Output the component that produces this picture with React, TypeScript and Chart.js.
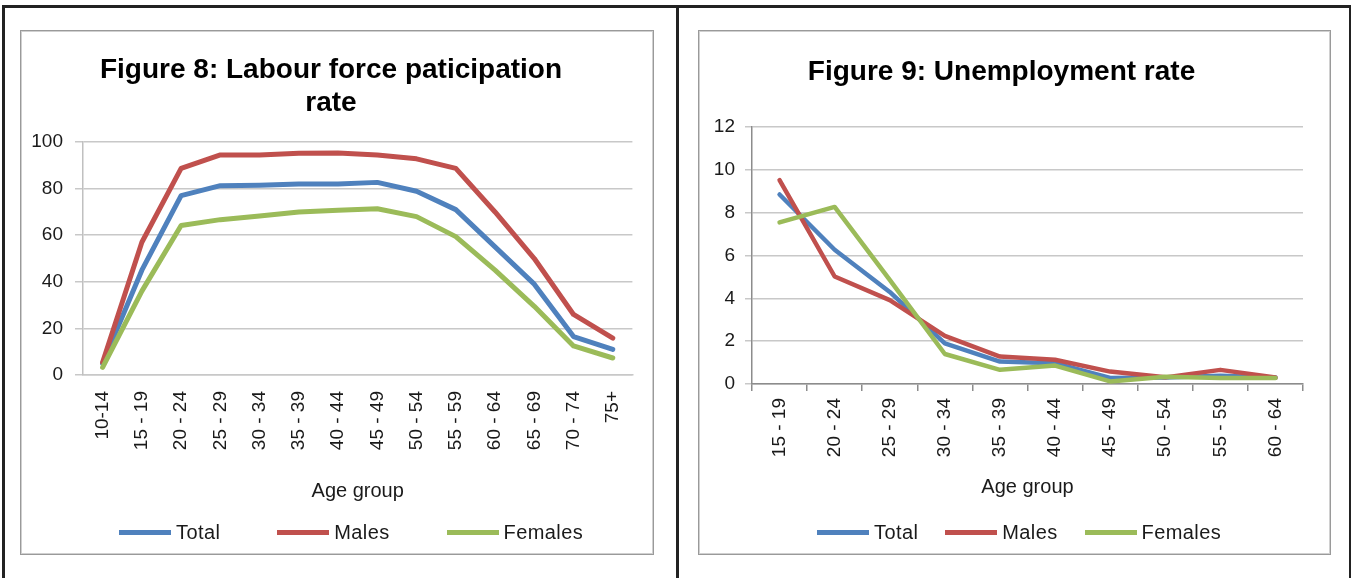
import { useEffect, useRef } from "react"
import { Chart, registerables, type ChartConfiguration } from "chart.js"

Chart.register(...registerables)

const FONT = "'Liberation Sans', Arial, sans-serif"
Chart.defaults.font.family = FONT

const BLUE = "#4F81BD"
const RED = "#C0504D"
const GREEN = "#9BBB59"

// Figure 8: labour force participation rate (%)
const ageGroups8 = [
  "10-14", "15 - 19", "20 - 24", "25 - 29", "30 - 34", "35 - 39", "40 - 44",
  "45 - 49", "50 - 54", "55 - 59", "60 - 64", "65 - 69", "70 - 74", "75+",
]
const total8 = [5, 45, 77, 81.3, 81.5, 82, 82, 82.7, 78.9, 71, 55, 39, 16.5, 11]
const males8 = [5.5, 57, 88.7, 94.5, 94.5, 95.2, 95.3, 94.5, 92.8, 88.7, 70, 50, 26, 15.8]
const females8 = [3.3, 36, 64.2, 66.7, 68.3, 70, 70.7, 71.4, 68, 59.4, 45, 29.5, 12.5, 7.3]

// Figure 9: unemployment rate (%)
const ageGroups9 = [
  "15 - 19", "20 - 24", "25 - 29", "30 - 34", "35 - 39",
  "40 - 44", "45 - 49", "50 - 54", "55 - 59", "60 - 64",
]
const total9 = [8.85, 6.27, 4.3, 1.9, 1.05, 0.97, 0.28, 0.3, 0.39, 0.3]
const males9 = [9.52, 5.02, 3.92, 2.25, 1.28, 1.13, 0.58, 0.31, 0.66, 0.3]
const females9 = [7.55, 8.27, 4.86, 1.4, 0.66, 0.86, 0.12, 0.34, 0.28, 0.28]

interface FigureProps {
  left: number
  width: number
  title: string | string[]
  labels: string[]
  total: number[]
  males: number[]
  females: number[]
  yMax: number
  yStep: number
  yAxisWidth: number
  rightPad: number
  titlePadTop: number
  titlePadBottom: number
  xAxisHeight: number
  bottomPad: number
  yTickLength: number
  xTickMarks: boolean
  xLabelPadding: number
  yLabelPadding: number
  axisColor: string
  lineWidth: number
  legendLeft: number
  legendGap: number
}

function LineFigure(p: FigureProps) {
  const canvasRef = useRef<HTMLCanvasElement>(null)
  const chartRef = useRef<Chart | null>(null)
  const canvasW = p.width - 4
  const canvasH = 521

  useEffect(() => {
    if (!canvasRef.current) return
    if (chartRef.current) chartRef.current.destroy()

    const line = (label: string, data: number[], color: string, order: number) => ({
      label,
      data,
      borderColor: color,
      backgroundColor: color,
      borderWidth: p.lineWidth,
      pointRadius: 0,
      tension: 0,
      borderJoinStyle: "round" as const,
      borderCapStyle: "round" as const,
      order,
    })

    const config: ChartConfiguration = {
      type: "line",
      data: {
        labels: p.labels,
        datasets: [
          line("Total", p.total, BLUE, 2),
          line("Males", p.males, RED, 1),
          line("Females", p.females, GREEN, 0),
        ],
      },
      options: {
        responsive: false,
        animation: false,
        layout: { padding: { left: 0, right: p.rightPad, top: 0, bottom: p.bottomPad } },
        plugins: {
          legend: { display: false },
          tooltip: { enabled: false },
          title: {
            display: true,
            text: p.title,
            color: "#000",
            font: { size: 28, weight: "bold", lineHeight: 1.18 },
            padding: { top: p.titlePadTop, bottom: p.titlePadBottom },
          },
        },
        scales: {
          x: {
            offset: true,
            grid: {
              display: p.xTickMarks,
              drawOnChartArea: false,
              drawTicks: p.xTickMarks,
              tickLength: 7,
              offset: true,
              color: p.axisColor,
              lineWidth: 1.5,
            },
            border: { color: p.xTickMarks ? p.axisColor : "#c8c8c8", width: 1.5 },
            ticks: {
              autoSkip: false,
              minRotation: 90,
              maxRotation: 90,
              padding: p.xLabelPadding,
              color: "#1a1a1a",
              font: { size: 19 },
            },
            title: {
              display: true,
              text: "Age group",
              color: "#1a1a1a",
              font: { size: 20, lineHeight: 1.2 },
              padding: { top: 0, bottom: 0 },
            },
            afterFit: (scale) => {
              scale.height = p.xAxisHeight
            },
          },
          y: {
            min: 0,
            max: p.yMax,
            grid: { color: "#c8c8c8", lineWidth: 1.5, tickLength: p.yTickLength },
            border: { color: p.axisColor, width: 1.5 },
            ticks: {
              stepSize: p.yStep,
              padding: p.yLabelPadding,
              color: "#1a1a1a",
              font: { size: 19 },
            },
            afterFit: (scale) => {
              scale.width = p.yAxisWidth
            },
          },
        },
      },
    }

    chartRef.current = new Chart(canvasRef.current, config)
    return () => {
      if (chartRef.current) {
        chartRef.current.destroy()
        chartRef.current = null
      }
    }
  }, [])

  const legendItems = [
    { text: "Total", color: BLUE },
    { text: "Males", color: RED },
    { text: "Females", color: GREEN },
  ]

  return (
    <>
      <div
        style={{
          position: "absolute",
          left: p.left,
          top: 30,
          width: p.width,
          height: 525,
          boxSizing: "border-box",
          border: "1px solid #9a9a9a",
          boxShadow: "inset 0 0 0 1px #d0d0d0",
          background: "#fff",
        }}
      >
        <canvas
          ref={canvasRef}
          width={canvasW}
          height={canvasH}
          style={{ position: "absolute", left: 1, top: 1, width: canvasW, height: canvasH }}
        />
      </div>
      <div
        style={{
          position: "absolute",
          left: p.legendLeft,
          top: 520,
          height: 24,
          display: "flex",
          alignItems: "center",
          gap: p.legendGap,
          fontFamily: FONT,
          fontSize: 20,
          color: "#1a1a1a",
          letterSpacing: 0.4,
        }}
      >
        {legendItems.map((item) => (
          <div key={item.text} style={{ display: "flex", alignItems: "center" }}>
            <div style={{ width: 52, height: 5, background: item.color, marginRight: 5 }} />
            <span>{item.text}</span>
          </div>
        ))}
      </div>
    </>
  )
}

export default function App() {
  const rule = (left: number, top: number, width: number, height: number) => (
    <div style={{ position: "absolute", left, top, width, height, background: "#222" }} />
  )

  return (
    <div
      style={{
        position: "absolute",
        left: 0,
        top: 0,
        width: 1351,
        height: 578,
        background: "#fff",
        overflow: "hidden",
      }}
    >
      {rule(2, 5, 1349, 3)}
      {rule(2, 5, 3, 573)}
      {rule(676, 5, 3, 573)}
      {rule(1349, 5, 2, 573)}

      <LineFigure
        left={20}
        width={634}
        title={["Figure 8: Labour force paticipation", "rate"]}
        labels={ageGroups8}
        total={total8}
        males={males8}
        females={females8}
        yMax={100}
        yStep={20}
        yAxisWidth={61}
        rightPad={12}
        titlePadTop={22}
        titlePadBottom={22}
        xAxisHeight={128}
        bottomPad={50}
        yTickLength={8}
        xTickMarks={false}
        xLabelPadding={16}
        yLabelPadding={12}
        axisColor="#c0c0c0"
        lineWidth={5}
        legendLeft={119}
        legendGap={57}
      />

      <LineFigure
        left={698}
        width={633}
        title="Figure 9: Unemployment rate"
        labels={ageGroups9}
        total={total9}
        males={males9}
        females={females9}
        yMax={12}
        yStep={2}
        yAxisWidth={52}
        rightPad={26}
        titlePadTop={24}
        titlePadBottom={38}
        xAxisHeight={115}
        bottomPad={54}
        yTickLength={7}
        xTickMarks={true}
        xLabelPadding={7}
        yLabelPadding={10}
        axisColor="#8c8c8c"
        lineWidth={4.5}
        legendLeft={817}
        legendGap={27}
      />
    </div>
  )
}
